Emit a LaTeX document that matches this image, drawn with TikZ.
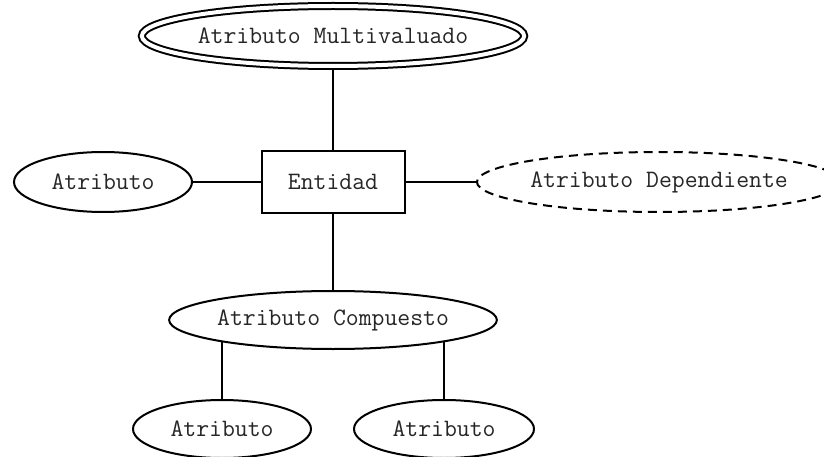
\documentclass[tikz,border=0pt]{standalone}
\usetikzlibrary{shapes.geometric,backgrounds}

\begin{document}
\begin{tikzpicture}[x=1pt,y=-1pt,
                    every node/.style={draw,fill=white,line width=2pt,inner sep=0pt,text=black!85,
                                       font=\ttfamily\fontsize{25}{28}\selectfont},
                    atrib/.style={ellipse,minimum width=178pt,minimum height=58pt},
                    entidad/.style={rectangle,minimum width=143pt,minimum height=62pt},
                    link/.style={line width=2pt}
]
\useasboundingbox (0,0) rectangle (824,457);

\node [entidad] at (333,182) (ent) {Entidad};
\node [atrib, double, double distance=4pt, minimum width=325pt, minimum height=60pt] at (333,36) (multi) {Atributo Multivaluado};
\node [atrib, minimum height=60pt] at (103,182) (atr) {Atributo};
\node [atrib, dash pattern=on 9pt off 6pt, minimum width=328pt, minimum height=60pt] at (659,182) (dep) {Atributo Dependiente};
\node [atrib, minimum width=316pt] at (333,320) (comp) {Atributo Compuesto};
\node [atrib] at (222,429) (atr1) {Atributo};
\node [atrib, minimum width=180pt] at (444,429) (atr2) {Atributo};
%
\begin{scope}[on background layer]
\draw [link] (multi) -- (ent);
\draw [link] (atr) -- (ent);
\draw [link] (ent) -- (dep);
\draw [link] (ent) -- (comp);
%
\draw [link] (atr1) -- (atr1 |- comp);
\draw [link] (atr2) -- (atr2 |- comp);
\end{scope}
\end{tikzpicture}
\end{document}
